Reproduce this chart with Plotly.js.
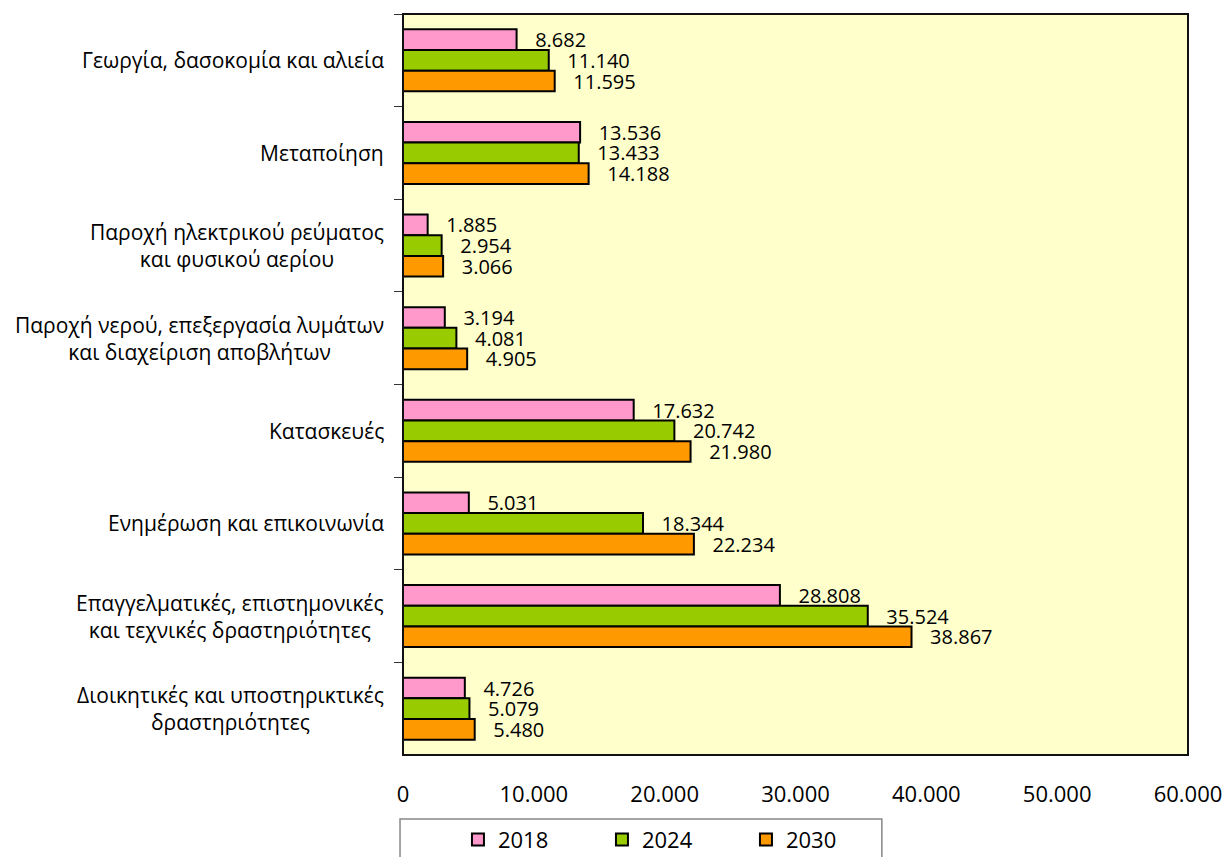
<!DOCTYPE html>
<html>
<head>
<meta charset="utf-8">
<script src="https://cdn.plot.ly/plotly-3.0.1.min.js"></script>
<style>html,body{margin:0;padding:0;background:#fff;}#chart{width:1227px;height:857px;}</style>
</head>
<body>
<div id="chart"></div>
<script>
const categories = [
  "Γεωργία, δασοκομία και αλιεία",
  "Μεταποίηση",
  "Παροχή ηλεκτρικού ρεύματος<br>και φυσικού αερίου",
  "Παροχή νερού, επεξεργασία λυμάτων<br>και διαχείριση αποβλήτων",
  "Κατασκευές",
  "Ενημέρωση και επικοινωνία",
  "Επαγγελματικές, επιστημονικές<br>και τεχνικές δραστηριότητες",
  "Διοικητικές και υποστηρικτικές<br>δραστηριότητες"
];
const seriesNames = ["2018", "2024", "2030"];
const values2018 = [8682, 13536, 1885, 3194, 17632, 5031, 28808, 4726];
const values2024 = [11140, 13433, 2954, 4081, 20742, 18344, 35524, 5079];
const values2030 = [11595, 14188, 3066, 4905, 21980, 22234, 38867, 5480];
const xTicks = [0, 10000, 20000, 30000, 40000, 50000, 60000];

const colors = ["#FF99CC", "#99CC00", "#FF9900"];
const allValues = [values2018, values2024, values2030];
const FONT = "Open Sans, sans-serif";

const traces = allValues.map((vals, i) => ({
  type: "bar",
  orientation: "h",
  name: seriesNames[i],
  x: vals,
  y: categories,
  marker: { color: colors[i], line: { color: "#000000", width: 2 } },
  texttemplate: "\u00a0\u00a0\u00a0%{x:,d}",
  textposition: "outside",
  constraintext: "none",
  cliponaxis: false,
  textfont: { family: FONT, size: 20, color: "#000000" },
  hoverinfo: "x+name"
}));

const annotations = categories.map(c => ({
  xref: "paper", yref: "y", x: 0, y: c,
  xanchor: "right", yanchor: "middle", align: "center",
  xshift: -17, showarrow: false, text: c,
  font: { family: FONT, size: 21, color: "#000000" }
}));

const layout = {
  width: 1227, height: 857,
  margin: { l: 403, r: 39, t: 14, b: 102, pad: 0, autoexpand: false },
  paper_bgcolor: "#ffffff",
  plot_bgcolor: "#FFFFCC",
  separators: ",.",
  barmode: "group",
  bargap: 0.33,
  bargroupgap: 0,
  showlegend: true,
  legend: {
    orientation: "h",
    x: 0.07, xanchor: "left",
    y: -0.086, yanchor: "top",
    entrywidth: 99, entrywidthmode: "pixels",
    itemwidth: 30,
    font: { family: FONT, size: 22, color: "#000000" },
    bgcolor: "rgba(0,0,0,0)",
    borderwidth: 0
  },
  xaxis: {
    range: [0, 60000],
    tickvals: xTicks,
    tickformat: ",d",
    showgrid: false, zeroline: false,
    showline: false,
    ticks: "", ticklabelstandoff: 24,
    tickfont: { family: FONT, size: 22, color: "#000000" },
    fixedrange: true
  },
  yaxis: {
    type: "category",
    autorange: "reversed",
    showticklabels: false,
    ticks: "outside", tickson: "boundaries", ticklen: 8, tickwidth: 1, tickcolor: "#333",
    showline: true, linecolor: "#222", linewidth: 1.5,
    showgrid: false, zeroline: false,
    fixedrange: true
  },
  annotations: annotations,
  shapes: [
    { type: "rect", xref: "paper", yref: "paper", x0: 0, x1: 1, y0: 0, y1: 1,
      line: { color: "#111", width: 2 }, fillcolor: "rgba(0,0,0,0)", layer: "above" },
    { type: "rect", xref: "paper", yref: "paper", x0: -0.0038, x1: 0.61, y0: -0.0864, y1: -0.2,
      line: { color: "#888", width: 1.5 }, fillcolor: "rgba(0,0,0,0)" }
  ],
  font: { family: FONT, color: "#000000" }
};

Plotly.newPlot("chart", traces, layout, { displayModeBar: false, staticPlot: true });
</script>
</body>
</html>
